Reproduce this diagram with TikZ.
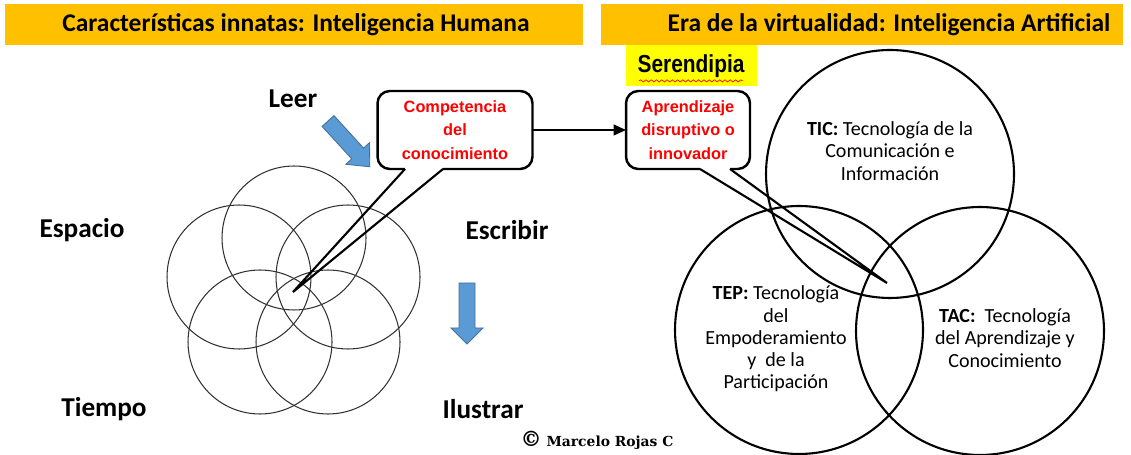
\documentclass[tikz,border=0pt]{standalone}
\usepackage{fontspec}
\setmainfont{Carlito}
\newfontfamily\calloutfont{Liberation Sans}
\newfontfamily\signfont{DejaVu Serif}
\usepackage{graphicx}
\usepackage{xcolor}
\definecolor{Amber}{HTML}{FFC000}
\definecolor{Lemon}{HTML}{FFFF00}
\definecolor{Sky Blue}{HTML}{5B9BD5}
\definecolor{Steel Blue}{HTML}{41719C}
\colorlet{cBar}{Amber}
\colorlet{cMark}{Lemon}
\colorlet{cArrow}{Sky Blue}
\colorlet{cArrowEdge}{Steel Blue}
\colorlet{cRed}{red}
\usepackage{tikz}
\usetikzlibrary{positioning, calc, arrows.meta, decorations.pathmorphing}
\tikzset{
	line width = .75pt,
	>={Triangle[length=7pt, width=6pt]},
	titlebar/.style={
		fill=cBar,
		draw=none,
		inner sep=0pt,
		outer sep=0pt
	},
	title/.style={
		font=\fontsize{14.5}{16}\selectfont\bfseries,
		inner sep=0pt
	},
	skill/.style={
		font=\fontsize{15.5}{18}\selectfont\bfseries,
		inner sep=0pt
	},
	petal/.style={
		draw=black!80,
		circle,
		line width=.6pt,
		minimum size=2.88cm,
		inner sep=0pt,
		outer sep=0pt
	},
	sphere/.style={
		draw,
		circle,
		line width=1.2pt,
		minimum size=4.96cm,
		inner sep=0pt,
		outer sep=0pt
	},
	callout/.style={
		draw,
		fill=white,
		rounded corners=7pt,
		line width=1.4pt,
		text=cRed,
		align=center,
		inner sep=0pt,
		outer sep=0pt,
		font=\calloutfont\bfseries\fontsize{9.3}{13.3}\selectfont
	},
	tail/.style={
		line width=1.2pt
	},
	blockarrow/.style={
		fill=cArrow,
		draw=cArrowEdge,
		line width=.5pt
	},
	sphere text/.style={
		align=center,
		inner sep=0pt,
		font=\fontsize{11.4}{12.7}\selectfont
	}
}

\begin{document}
\begin{tikzpicture}[x=0.02cm, y=-0.02cm]
\useasboundingbox (0,0) rectangle (1131,455);
% ---
% title bars
% ---
\node[titlebar, minimum width=11.56cm, minimum height=0.82cm, anchor=north west] (bar-h) at (5,4) {};
\node[titlebar, minimum width=10.44cm, minimum height=0.82cm, anchor=north west] (bar-a) at (601,4) {};
\node[title] (title-h) at (296,25) {Características innatas: Inteligencia Humana};
\node[title] (title-a) at (889,25) {Era de la virtualidad: Inteligencia Artificial};

% ---
% flower of five circles
% ---
\node[petal] (p-top) at (294,238) {};
\node[petal] (p-left) at (239,277) {};
\node[petal] (p-right) at (348,277) {};
\node[petal] (p-bl) at (260,342) {};
\node[petal] (p-br) at (328,342) {};
\coordinate (core) at (293,292);

\node[skill] (leer) at (293,99) {Leer};
\node[skill] (espacio) at (82,230) {Espacio};
\node[skill] (escribir) at (507,230) {Escribir};
\node[skill] (tiempo) at (104,409) {Tiempo};
\node[skill] (ilustrar) at (483,409) {Ilustrar};

% blue arrows
\begin{scope}[shift={(328,121)}, rotate=-47.6]
\draw[blockarrow] (0,-8) -- (44,-8) -- (44,-16) -- (62,0) -- (44,16) -- (44,8) -- (0,8) -- cycle;
\end{scope}
\draw[blockarrow] (459,283) -- (475,283) -- (475,328) -- (483,328) -- (467,344) -- (451,328) -- (459,328) -- cycle;

% ---
% three circles
% ---
\node[sphere] (tic) at (890,174) {};
\node[sphere] (tep) at (799,330) {};
\node[sphere] (tac) at (980,331) {};
\coordinate (venn-core) at (887,283);

\node[sphere text] (tic-text) at (890,151) {\textbf{TIC:} Tecnología de la\\Comunicación e\\Información};
\node[sphere text] (tep-text) at (776,339) {\textbf{TEP:} Tecnología\\del\\Empoderamiento\\y\ \ de la\\Participación};
\node[sphere text] (tac-text) at (1005,338) {\textbf{TAC:}\ \ Tecnología\\del Aprendizaje y\\Conocimiento};

% ---
% callouts
% ---
\node[callout, minimum width=3.1cm, minimum height=1.56cm] (comp) at (455,130) {Competencia\\del\\conocimiento};
\node[callout, minimum width=2.48cm, minimum height=1.56cm] (inno) at (688,130) {Aprendizaje\\disruptivo o\\innovador};

\fill[white] ([xshift=-1cm, yshift=1pt]comp.south) rectangle ([xshift=-0.24cm, yshift=-1pt]comp.south);
\draw[tail] ([xshift=-1cm]comp.south) -- (core) -- ([xshift=-0.24cm]comp.south);
\fill[white] ([xshift=0.24cm, yshift=1pt]inno.south) rectangle ([xshift=0.84cm, yshift=-1pt]inno.south);
\draw[tail] ([xshift=0.24cm]inno.south) -- (venn-core) -- ([xshift=0.84cm]inno.south);

\draw[->, line width=1.2pt] (comp) -- (inno);

\node[fill=cMark, minimum width=2.62cm, minimum height=0.82cm, inner sep=0pt, font=\calloutfont\bfseries\fontsize{14}{16}\selectfont] (seren) at (691,66) {\scalebox{0.85}[1]{Serendipia}};
\draw[cRed, line width=.4pt, decorate, decoration={snake, amplitude=.6pt, segment length=3pt}] ([xshift=-1.04cm, yshift=3.4pt]seren.south) -- ([xshift=1.04cm, yshift=3.4pt]seren.south);

\node[inner sep=0pt, font=\signfont\bfseries\fontsize{7.9}{9}\selectfont] (sign) at (597,440) {{\fontsize{12}{12}\selectfont\textcopyright}\ Marcelo Rojas C};
\end{tikzpicture}
\end{document}
